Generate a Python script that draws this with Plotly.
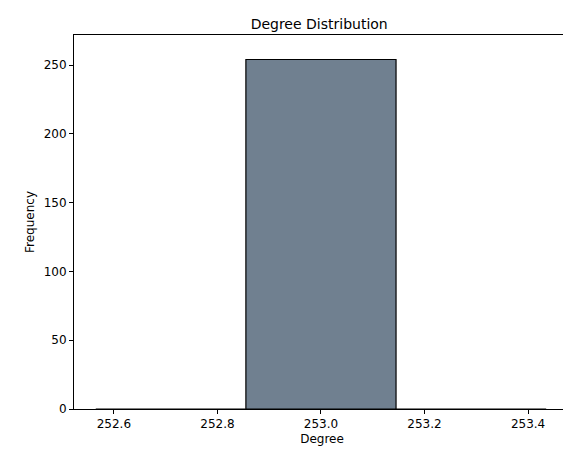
import plotly.graph_objects as go

bin_centers = [252.71, 253.0, 253.29]
counts = [0, 254, 0]
bin_width = 0.29

fig = go.Figure()
fig.add_trace(go.Bar(
    x=bin_centers, y=counts, width=bin_width,
    marker={"color": "#708090", "line": {"color": "black", "width": 1.2}},
))

axis_common = dict(showline=True, mirror=True, linecolor="black", linewidth=1,
                   ticks="outside", ticklen=4, tickcolor="black", showgrid=False,
                   zeroline=False, automargin=False, tickfont={"size": 12, "color": "black"})
fig.update_xaxes(range=[252.523, 253.481], tickvals=[252.6, 252.8, 253.0, 253.2, 253.4],
                 ticktext=["252.6", "252.8", "253.0", "253.2", "253.4"],
                 title={"text": "Degree", "font": {"size": 12, "color": "black"}, "standoff": 4},
                 **axis_common)
fig.update_yaxes(range=[0, 271.8], tickvals=[0, 50, 100, 150, 200, 250],
                 title={"text": "Frequency", "font": {"size": 12, "color": "black"}, "standoff": 6},
                 **axis_common)
fig.update_layout(
    width=571, height=455,
    margin={"l": 66, "r": 9, "t": 27, "b": 54, "autoexpand": False},
    plot_bgcolor="white", paper_bgcolor="white",
    font={"family": "DejaVu Sans"},
    title={"text": "Degree Distribution", "x": 0.545, "xanchor": "center",
           "y": 1, "yref": "paper", "yanchor": "bottom", "pad": {"b": 6},
           "font": {"size": 14, "color": "black"}},
    showlegend=False,
)
fig.write_html("out.html")
